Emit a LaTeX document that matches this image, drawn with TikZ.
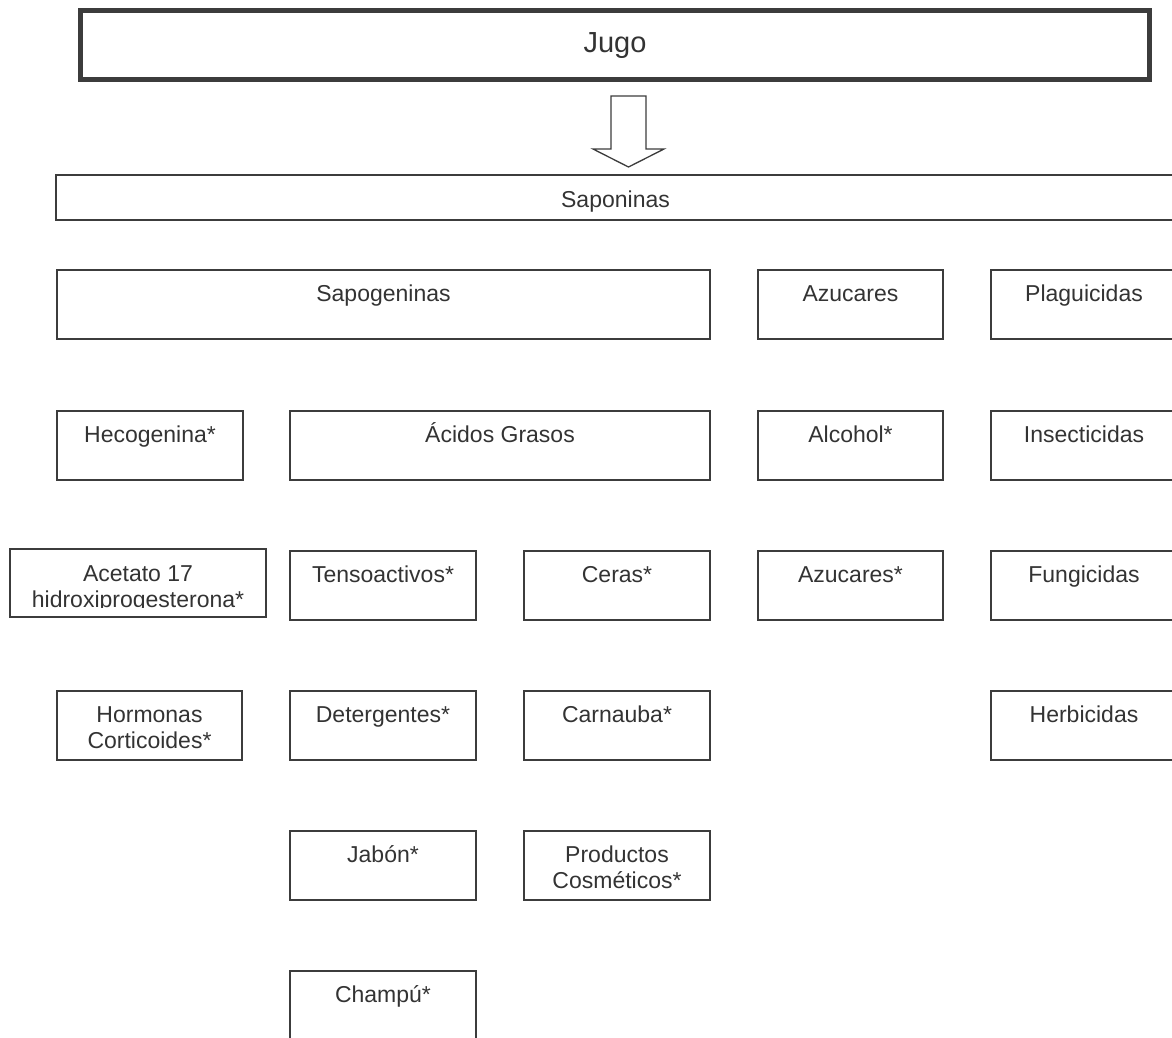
\documentclass[tikz,border=0pt]{standalone}
\usepackage{fontspec}
\setmainfont{Liberation Sans}
\usepackage{tikz}
\usetikzlibrary{positioning}
\definecolor{borde}{HTML}{3C3C3C}
\definecolor{tinta}{HTML}{333333}
\tikzset{%
	caja/.style   = {draw=borde, line width=2pt, rectangle, anchor=north west, inner sep=0pt, outer sep=0pt, minimum width=186pt, minimum height=69pt},
	texto/.style  = {anchor=north, inner sep=0pt, text=tinta, font=\fontsize{23}{26}\selectfont, align=center},
	linea/.style  = {texto, text height=16.5pt, text depth=5pt},
	flecha/.style = {draw=borde, line width=1.3pt, line join=miter, fill=white},
}

\begin{document}
\begin{tikzpicture}[x=1pt,y=-1pt]
		\useasboundingbox (0,0) rectangle (1172,1037);
		\clip (0,0) rectangle (1172,1037);
		
		% jugo y saponinas
		\node[caja, line width=5pt, minimum width=1069pt, label={[linea, font=\fontsize{29}{32}\selectfont, text height=20.8pt, yshift=-21pt]90:Jugo}] (jugo) at (80.5,10.5) {};
		\node[caja, minimum width=1119pt, minimum height=45pt, label={[linea, yshift=-16pt]90:Saponinas}] (saponinas) at (56,175) {};
		
		\coordinate (punta) at (628.5,167);
		\draw[flecha] (punta) -- ++(35.5,-18) -- ++(-18,0) -- ++(0,-53) -- ++(-35,0) -- ++(0,53) -- ++(-18,0) -- cycle;
		
		% cajas de una linea
		\foreach \nombre/\x/\y/\w/\txt in {sapogeninas/57/270/653/Sapogeninas, azucares/758/270/185/Azucares, plaguicidas/991/270/186/Plaguicidas,
			hecogenina/57/411/186/Hecogenina*, acidos/290/411/420/Ácidos Grasos, alcohol/758/411/185/Alcohol*, insecticidas/991/411/186/Insecticidas,
			tensoactivos/290/551/186/Tensoactivos*, ceras/524/551/186/Ceras*, azucaresb/758/551/185/Azucares*, fungicidas/991/551/186/Fungicidas,
			detergentes/290/691/186/Detergentes*, carnauba/524/691/186/Carnauba*, herbicidas/991/691/186/Herbicidas,
			jabon/290/831/186/Jabón*, champu/290/971/186/Champú*}
		\node[caja, minimum width=\w pt, label={[linea, yshift=-15pt]90:\txt}] (\nombre) at (\x,\y) {};
		
		% cajas de dos lineas
		\node[caja, minimum width=185pt, label={[texto, yshift=-15pt]90:Hormonas\\Corticoides*}] (hormonas) at (57,691) {};
		\node[caja, label={[texto, yshift=-15pt]90:Productos\\Cosméticos*}] (productos) at (524,831) {};
		
		\node[caja, minimum width=256pt, minimum height=68pt] (acetato) at (10,549) {};
		\begin{scope}
			\clip (acetato.north west) rectangle ([yshift=10pt]acetato.south east);
			\node[texto, yshift=-16pt] (acetatotxt) at (acetato.north) {Acetato 17\\hidroxiprogesterona*};
		\end{scope}
		\end{tikzpicture}
\end{document}
